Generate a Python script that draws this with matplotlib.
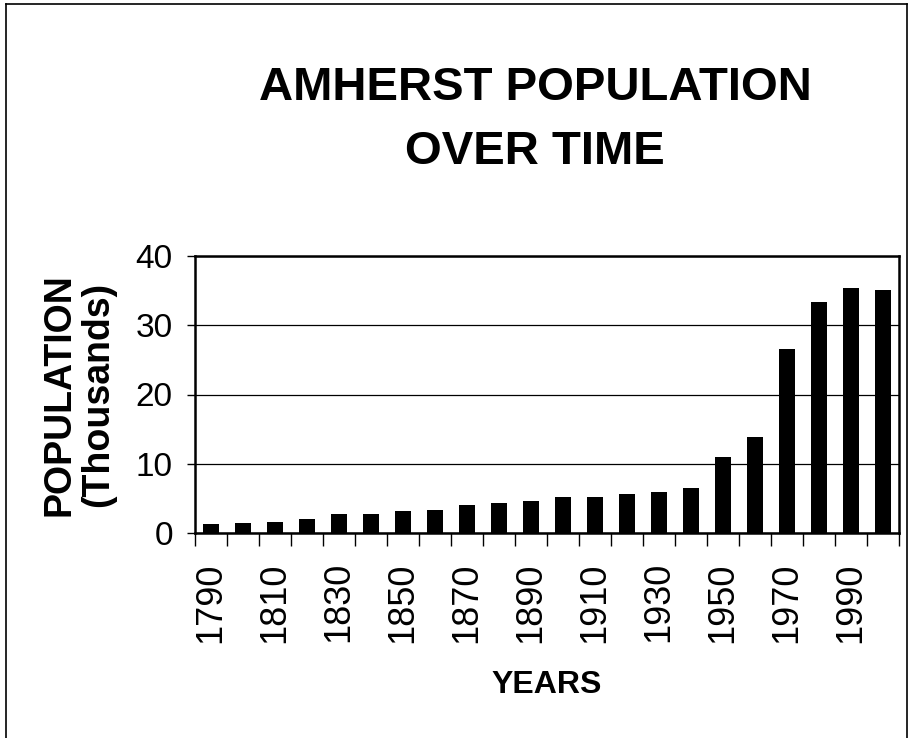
import numpy as np
import matplotlib
matplotlib.use("Agg")
import matplotlib.pyplot as plt
from matplotlib.lines import Line2D

plt.rcParams['font.family'] = ['Liberation Sans', 'DejaVu Sans']

# census years and population (thousands)
years = [1790, 1800, 1810, 1820, 1830, 1840, 1850, 1860, 1870, 1880, 1890,
         1900, 1910, 1920, 1930, 1940, 1950, 1960, 1970, 1980, 1990, 2000]
population = [1.25, 1.49, 1.64, 2.07, 2.69, 2.69, 3.13, 3.37, 4.09, 4.38, 4.62,
              5.20, 5.20, 5.63, 5.97, 6.50, 10.92, 13.81, 26.56, 33.35, 35.37, 35.08]
y_ticks = [0, 10, 20, 30, 40]

W, H = 910, 738
fig = plt.figure(figsize=(W / 100, H / 100), dpi=100)
ax = fig.add_axes([195 / W, 1 - 533 / H, (899 - 195) / W, (533 - 256) / H])

x = np.arange(len(years))
ax.bar(x, population, width=0.5, color='black', zorder=3)

ax.set_xlim(-0.5, len(years) - 0.5)
ax.set_ylim(0, 40)
ax.set_yticks(y_ticks)
ax.yaxis.grid(True, color='black', linewidth=0.9, zorder=1)

# labels every second bar, tick marks between bars
ax.set_xticks(x[::2])
ax.set_xticklabels([str(y) for y in years[::2]], rotation=90)
ax.set_xticks(np.arange(len(years) + 1) - 0.5, minor=True)
ax.tick_params(axis='x', which='major', length=0, pad=21, labelsize=26)
ax.tick_params(axis='x', which='minor', length=9, width=1, direction='out')
ax.tick_params(axis='y', length=6, width=1, pad=10, labelsize=24)

for s in ax.spines.values():
    s.set_linewidth(1.8)

ax.set_ylabel('POPULATION\n(Thousands)', fontsize=27, fontweight='bold',
              linespacing=1.1, labelpad=14)
ax.set_xlabel('YEARS', fontsize=23, fontweight='bold', labelpad=20)

fig.text(535 / W, 1 - 120 / H, 'AMHERST POPULATION\nOVER TIME', ha='center', va='center',
         fontsize=34, fontweight='bold', linespacing=1.6)

# outer frame
fig.add_artist(Line2D([6 / W, 6 / W], [0, 1 - 4 / H], color='black', lw=1.2))
fig.add_artist(Line2D([6 / W, 907 / W], [1 - 4 / H, 1 - 4 / H], color='black', lw=1.2))
fig.add_artist(Line2D([907 / W, 907 / W], [0, 1 - 4 / H], color='black', lw=1.2))

fig.savefig('out.png', dpi=100)
